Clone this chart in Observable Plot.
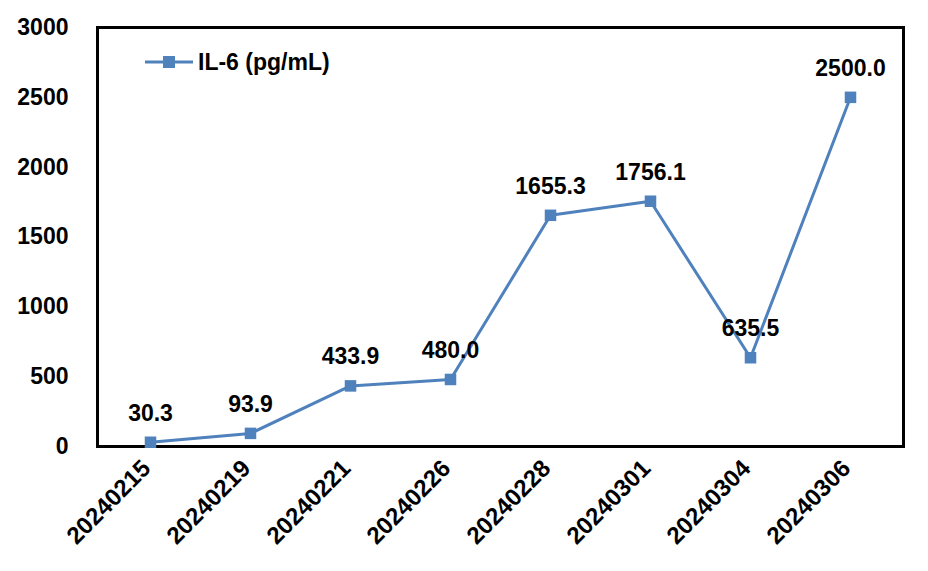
<!DOCTYPE html>
<html>
<head>
<meta charset="utf-8">
<script src="https://cdn.jsdelivr.net/npm/d3@7"></script>
<script src="https://cdn.jsdelivr.net/npm/@observablehq/plot@0.6"></script>
<style>
  html, body { margin: 0; padding: 0; background: #fff; }
  #wrap { position: relative; width: 928px; height: 571px; }
  #legend { position: absolute; left: 145px; top: 48px; height: 28px; display: flex; align-items: center;
    font-family: "Liberation Sans", Arial, sans-serif; font-weight: bold; font-size: 23px; color: #000; line-height: 28px; }
  #legend svg { margin-right: 5px; }
</style>
</head>
<body>
<div id="wrap">
  <div id="legend">
    <svg width="48" height="14"><line x1="0" y1="7" x2="48" y2="7" stroke="#4F81BD" stroke-width="3"/><rect x="18" y="1" width="12" height="12" fill="#4F81BD"/></svg>
    <span>IL-6 (pg/mL)</span>
  </div>
</div>
<script>
const dates = ["20240215","20240219","20240221","20240226","20240228","20240301","20240304","20240306"];
const values = [30.3, 93.9, 433.9, 480.0, 1655.3, 1756.1, 635.5, 2500.0];
const yTicks = [0, 500, 1000, 1500, 2000, 2500, 3000];

const data = dates.map((d, i) => ({date: d, value: values[i]}));
const color = "#4F81BD";
const font = "Liberation Sans, Arial, sans-serif";

const chart = Plot.plot({
  width: 928,
  height: 571,
  marginLeft: 97,
  marginRight: 25,
  marginTop: 27,
  marginBottom: 125,
  style: {fontFamily: font, fontWeight: "bold", fontSize: "23px", color: "#000", background: "#fff"},
  x: {type: "point", domain: dates, padding: 0.5, label: null},
  y: {domain: [0, 3000], ticks: yTicks, label: null},
  marks: [
    Plot.axisY({ticks: yTicks, tickFormat: d => String(d), tickSize: 0, tickPadding: 29, label: null, fontSize: 23, fontWeight: "bold"}),
    Plot.axisX({tickSize: 0, tickRotate: -45, tickPadding: 18, dx: -4, label: null, fontSize: 24, fontWeight: "bold"}),
    Plot.frame({stroke: "#000", strokeWidth: 3}),
    Plot.line(data, {x: "date", y: "value", stroke: color, strokeWidth: 3}),
    Plot.dot(data, {x: "date", y: "value", symbol: "square", fill: color, r: 6.5}),
    Plot.text(data, {x: "date", y: "value", text: d => d.value.toFixed(1), dy: -29, fontSize: 23, fontWeight: "bold", fill: "#000"})
  ]
});
document.getElementById("wrap").prepend(chart);
chart.style.position = "absolute";
chart.style.left = "0";
chart.style.top = "0";
</script>
</body>
</html>
